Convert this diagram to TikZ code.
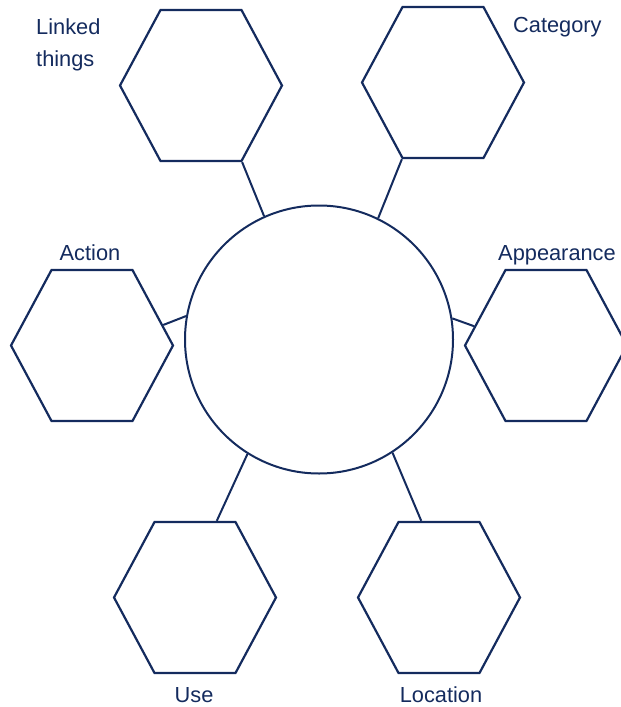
\documentclass[tikz,border=0pt]{standalone}
\usepackage{fontspec}
\setmainfont{Liberation Sans}
\usepackage{tikz}
\usetikzlibrary{shapes.geometric, positioning}
\definecolor{inkcolor}{RGB}{20,43,94}

\begin{document}
\begin{tikzpicture}[
    x=1pt, y=-1pt,
    hexa/.style={regular polygon, regular polygon sides=6, draw=inkcolor, line width=2.2pt, minimum size=162pt, inner sep=0pt, yscale=1.076},
    hub/.style={circle, draw=inkcolor, line width=2pt, minimum size=268pt, inner sep=0pt},
    link/.style={draw=inkcolor, line width=2pt},
    tag/.style={font=\fontsize{21.8}{29}\selectfont, text=inkcolor, inner sep=0pt, align=left}
]
\useasboundingbox (0,0) rectangle (621,707);

% Nodes
\node[hub] (hub) at (319,339.5) {};
\node[hexa] (linked) at (201,85.5) {};
\node[hexa] (category) at (443,82.5) {};
\node[hexa] (action) at (92,345.5) {};
\node[hexa] (appearance) at (546,345.5) {};
\node[hexa] (use) at (195,597.5) {};
\node[hexa] (location) at (439,597.5) {};

% Links
\draw[link] (linked.300) -- (hub.114);
\draw[link] (category.240) -- (hub.64);
\draw[link] (action.15) -- (hub.170);
\draw[link] (appearance.166) -- (hub.9);
\draw[link] (use.73) -- (hub.238);
\draw[link] (location.104) -- (hub.303);

% Labels
\node[tag, anchor=north west] (linkedtag) at (36,18.5) {Linked\\[3pt]things};
\node[tag, anchor=base west] (categorytag) at (513,32) {Category};
\node[tag, anchor=base] (actiontag) at (90,260.5) {Action};
\node[tag, anchor=base] (appearancetag) at (557,260.5) {Appearance};
\node[tag, anchor=base] (usetag) at (194,702.5) {Use};
\node[tag, anchor=base] (locationtag) at (441,702.5) {Location};

\end{tikzpicture}
\end{document}
